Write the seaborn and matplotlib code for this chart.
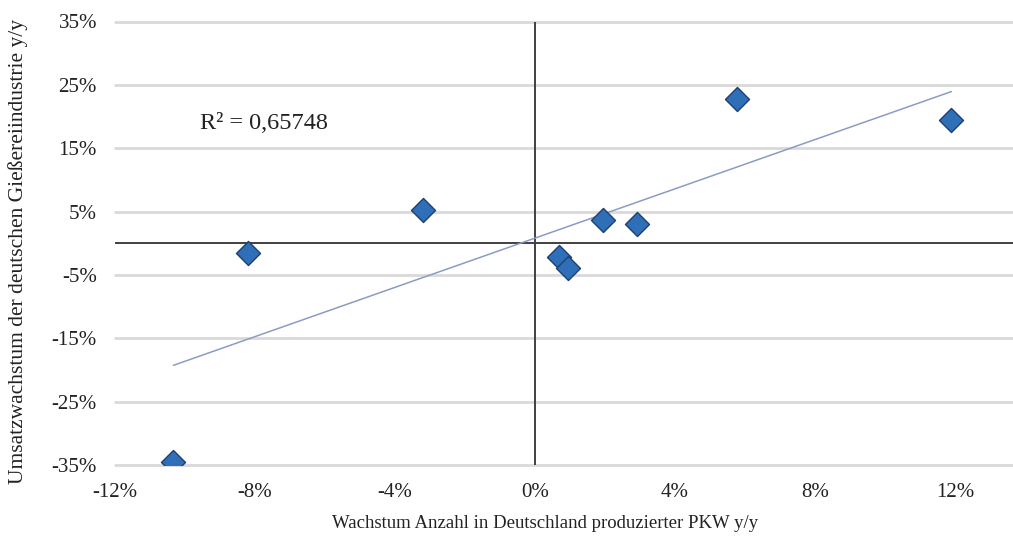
import matplotlib
matplotlib.use("Agg")
import matplotlib.pyplot as plt
import seaborn as sns
import pandas as pd
import numpy as np

# Data (percent)
pkw_growth = [-10.33, -8.19, -3.19, 0.69, 0.95, 1.95, 2.93, 5.76, 11.90]
foundry_growth = [-34.5, -1.5, 5.24, -2.24, -3.92, 3.71, 3.03, 22.78, 19.5]
x_ticks = [-12, -8, -4, 0, 4, 8, 12]
y_ticks = [-35, -25, -15, -5, 5, 15, 25, 35]
r2_label = "R² = 0,65748"
x_label = "Wachstum Anzahl in Deutschland produzierter PKW y/y"
y_label = "Umsatzwachstum der deutschen Gießereiindustrie y/y"

df = pd.DataFrame({"x": pkw_growth, "y": foundry_growth})

sns.set_theme(style="white")
plt.rcParams["font.family"] = ["Liberation Serif", "DejaVu Serif"]
plt.rcParams["axes.unicode_minus"] = False

fig = plt.figure(figsize=(10.13, 5.44), dpi=100)
ax = fig.add_axes([115 / 1013, 1 - 465 / 544, 1 - 115 / 1013, (465 - 21.5) / 544])

ax.set_xlim(-12, 13.66)
ax.set_ylim(-35, 35)

for yt in y_ticks:
    ax.axhline(yt, color="#d9d9d9", lw=2.0, zorder=0, clip_on=False)

ax.axhline(0, color="#404040", lw=1.4, zorder=1)
ax.axvline(0, color="#404040", lw=1.4, zorder=1)

sns.regplot(data=df, x="x", y="y", ax=ax, scatter=False, ci=None, truncate=True,
            line_kws={"color": "#8a9cc4", "lw": 1.1, "zorder": 2})
sns.scatterplot(data=df, x="x", y="y", ax=ax, marker="D", s=150,
                color="#2f6fb7", edgecolor="#1f3f73", linewidth=1.0, zorder=3)

ax.set_xticks(x_ticks)
ax.set_xticklabels([f"{v}%" for v in x_ticks], fontsize=15)
ax.set_yticks(y_ticks)
ax.set_yticklabels([f"{v}%" for v in y_ticks], fontsize=15)
ax.tick_params(axis="both", length=0, colors="#222222")
ax.tick_params(axis="y", pad=13)
ax.tick_params(axis="x", pad=13)

for s in ax.spines.values():
    s.set_visible(False)

ax.set_xlabel("")
ax.set_ylabel("")
fig.text(545 / 1013, 1 - 524 / 544, x_label, ha="center", va="center", fontsize=13.5, color="#222222")
fig.text(18 / 1013, 1 - 252 / 544, y_label, ha="center", va="center", rotation=90, fontsize=15.5, color="#222222")

ax.text(-9.57, 18.9, r2_label, fontsize=17.5, ha="left", va="center", color="#222222")

fig.savefig("out.png", dpi=100)
